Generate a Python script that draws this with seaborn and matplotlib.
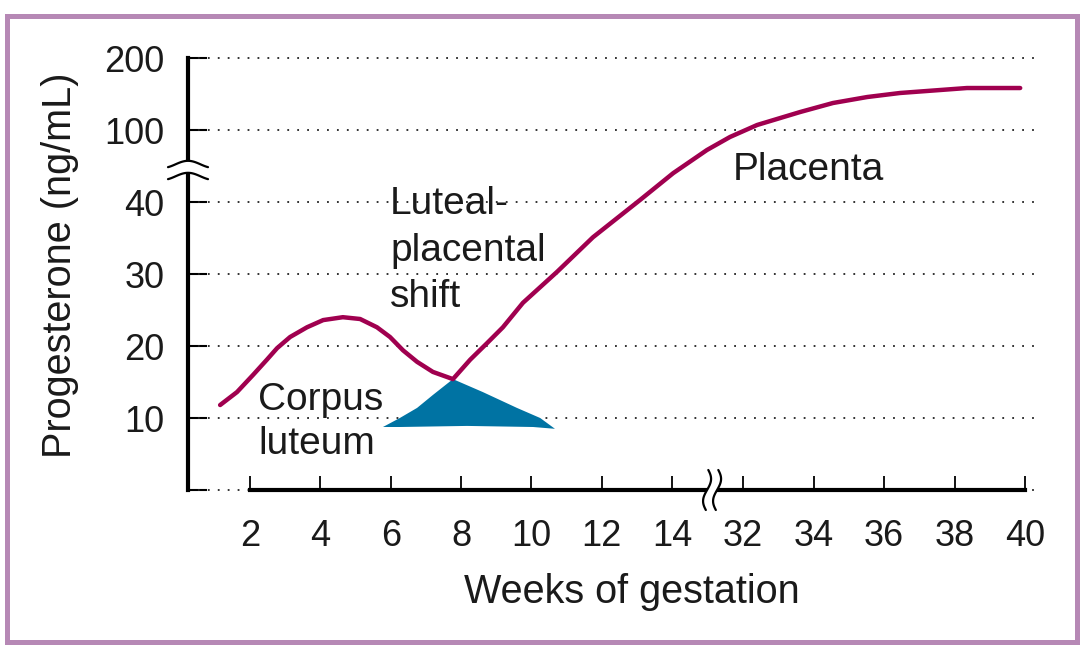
import numpy as np
import pandas as pd
import seaborn as sns
import matplotlib.pyplot as plt
from matplotlib.patches import Rectangle, Polygon
from matplotlib.lines import Line2D
from matplotlib.transforms import IdentityTransform

# progesterone curve (corpus luteum, then placenta)
weeks = [1.15, 1.63, 2.09, 2.48, 2.77, 3.14, 3.62, 4.08, 4.64, 5.13, 5.61, 5.98,
         6.35, 6.75, 7.20, 7.77, 8.26, 8.74, 9.19, 9.76, 10.73, 11.75, 13.09,
         14.03, 14.99, 31.63, 32.4, 33.62, 34.55, 35.52, 36.45, 38.35, 39.86]
progesterone = [11.8, 13.6, 16.0, 18.1, 19.7, 21.25, 22.6, 23.6, 24.0, 23.75, 22.6, 21.25,
                19.4, 17.8, 16.4, 15.4, 18.1, 20.4, 22.6, 26.0, 30.3, 35.1, 41.7,
                64.0, 83.3, 94.2, 107, 125, 137.5, 145.8, 151.4, 158.3, 158.3]

# luteal-placental shift (blue area outline)
shift_weeks = [5.78, 6.26, 6.75, 7.20, 7.77, 8.62, 9.59, 10.25, 10.67, 10.05, 8.17, 6.26]
shift_prog = [8.75, 10.0, 11.4, 13.2, 15.4, 13.6, 11.4, 10.0, 8.5, 8.75, 8.9, 8.75]

xticks = [2, 4, 6, 8, 10, 12, 14, 32, 34, 36, 38, 40]
yticks = [0, 10, 20, 30, 40, 100, 200]
ytick_labels = ['', '10', '20', '30', '40', '100', '200']

# broken axes as piecewise linear scales
X_KNOTS = [-10, 15.1, 31.1, 60]
X_POS = [-422.0, 460.7, 461.3, 1480.0]
Y_KNOTS = [-50, 40, 100, 400]
Y_POS = [-5, 4, 5, 8]


def fwd_x(w):
    return np.interp(w, X_KNOTS, X_POS)


def inv_x(u):
    return np.interp(u, X_POS, X_KNOTS)


def fwd_y(v):
    return np.interp(v, Y_KNOTS, Y_POS)


def inv_y(p):
    return np.interp(p, Y_POS, Y_KNOTS)


sns.set_theme(style='white')
plt.rcParams['font.family'] = ['Liberation Sans', 'DejaVu Sans']
INK = '#1a1a1a'
CURVE = '#a0004f'
BLUE = '#0073a3'

fig = plt.figure(figsize=(10.89, 6.51), dpi=100)
ax = fig.add_axes([188 / 1089, 161 / 651, 847 / 1089, 432 / 651])
ax.set_xscale('function', functions=(fwd_x, inv_x))
ax.set_yscale('function', functions=(fwd_y, inv_y))
ax.set_xlim(0.237, 40.28)
ax.set_ylim(0, 200)

df = pd.DataFrame({'week': weeks, 'progesterone': progesterone})
ax.fill(shift_weeks, shift_prog, color=BLUE, lw=0, zorder=2)
sns.lineplot(data=df, x='week', y='progesterone', sort=False, estimator=None,
             color=CURVE, lw=3.2, ax=ax, zorder=3, solid_joinstyle='round')

for v in yticks:
    ax.axhline(v, color='#222222', lw=1.3, ls=(0, (1, 4.5)), zorder=1, clip_on=False)

ax.set_xticks(xticks)
ax.set_xticklabels([str(t) for t in xticks])
ax.set_yticks(yticks)
ax.set_yticklabels(ytick_labels)
ax.minorticks_off()
ax.tick_params(axis='y', left=True, direction='in', length=14, width=1.5, pad=17,
               labelsize=26)
ax.tick_params(axis='x', bottom=True, direction='in', length=10, width=1.3, pad=21,
               labelsize=26)
ax.tick_params(colors='black', labelcolor=INK)

for side in ['top', 'right']:
    ax.spines[side].set_visible(False)
ax.spines['left'].set_linewidth(3)
ax.spines['bottom'].set_linewidth(3)
ax.spines['left'].set_color('black')
ax.spines['bottom'].set_color('black')
ax.spines['left'].set_bounds(0, 200)
ax.spines['bottom'].set_bounds(2, 40)

ax.set_xlabel('Weeks of gestation', fontsize=28.5, color=INK)
ax.set_ylabel('Progesterone (ng/mL)', fontsize=28.5, color=INK)
ax.xaxis.set_label_coords((632 - 188) / 847, -(592 - 490) / 432)
ax.yaxis.set_label_coords(-(188 - 60) / 847, (490 - 265) / 432)
ax.xaxis.label.set_va('center')
ax.yaxis.label.set_va('center')

ax.text(2.23, 15.0, 'Corpus\nluteum', fontsize=28, color=INK, va='top', ha='left',
        linespacing=1.3)
ax.text(5.98, 53, 'Luteal-\nplacental\nshift', fontsize=28, color=INK, va='top',
        ha='left', linespacing=1.37)
ax.text(31.72, 82, 'Placenta', fontsize=28, color=INK, va='top', ha='left')

# axis break marks
bx, by = ax.transData.transform((0.237, 66.4))
t = np.linspace(-20, 20, 60)
wave = 3.5 * np.sin(np.pi * (t + 20) / 40 * 1.6 - 0.3 * np.pi)
up = by + 6 + wave
lo = by - 6 + wave
fig.add_artist(Polygon(np.column_stack([np.r_[bx + t, bx + t[::-1]], np.r_[up, lo[::-1]]]),
                       closed=True, fc='white', ec='none', transform=IdentityTransform(),
                       zorder=5))
for yy in (up, lo):
    fig.add_artist(Line2D(bx + t, yy, color='black', lw=1.6,
                          transform=IdentityTransform(), zorder=6))

cx, cy = ax.transData.transform((31.12, 0))
s = np.linspace(-1, 1, 60)
sx = 4 * np.sin(np.pi * s * 0.9)
sy = cy + 20 * s
fig.add_artist(Polygon(np.column_stack([np.r_[cx - 5 + sx, cx + 5 + sx[::-1]], np.r_[sy, sy[::-1]]]),
                       closed=True, fc='white', ec='none', transform=IdentityTransform(),
                       zorder=5))
for dx in (-5, 5):
    fig.add_artist(Line2D(cx + dx + sx, sy, color='black', lw=1.6,
                          transform=IdentityTransform(), zorder=6))

# purple frame
fig.add_artist(Rectangle((6.5, 9.5), 1070, 626, fill=False, ec='#b688b5', lw=3.6,
                         transform=IdentityTransform()))

fig.savefig('out.png', dpi=100)
